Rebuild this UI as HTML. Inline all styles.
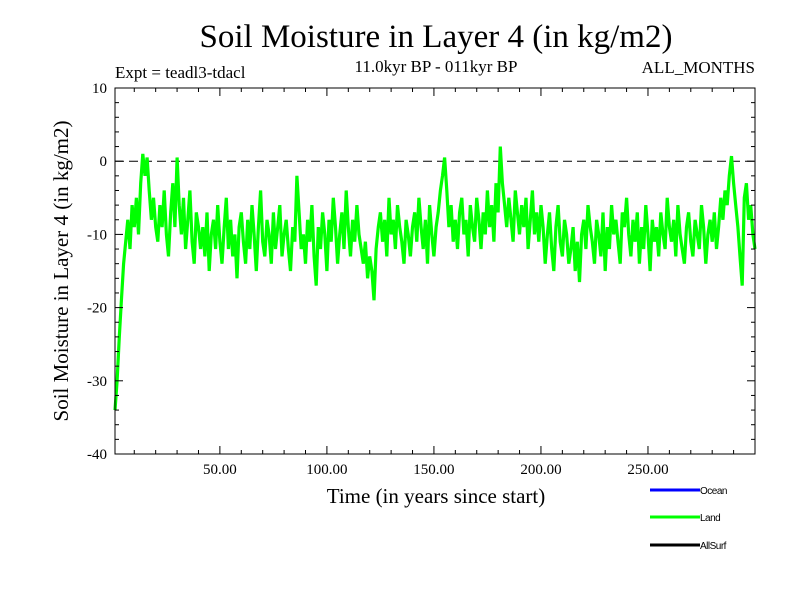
<!DOCTYPE html>
<html><head><meta charset="utf-8"><style>
body{margin:0;background:#fff;}
svg text{font-family:"Liberation Serif",serif;}
svg text.sans{font-family:"Liberation Sans",sans-serif;}
</style></head><body>
<svg width="800" height="600" xmlns="http://www.w3.org/2000/svg" id="chart">
<rect width="800" height="600" fill="#fff"/>
<text x="436" y="47" font-size="33" text-anchor="middle">Soil Moisture in Layer 4 (in kg/m2)</text>
<text x="115" y="78" font-size="17">Expt = teadl3-tdacl</text>
<text x="436" y="72" font-size="17" text-anchor="middle">11.0kyr BP - 011kyr BP</text>
<text x="755" y="73" font-size="17" text-anchor="end">ALL_MONTHS</text>
<text x="436" y="503" font-size="21" text-anchor="middle">Time (in years since start)</text>
<text transform="translate(68,271) rotate(-90)" font-size="21" text-anchor="middle">Soil Moisture in Layer 4 (in kg/m2)</text>
<g id="plot"></g>
<g>
<line x1="650" y1="490" x2="700" y2="490" stroke="#0000ff" stroke-width="3"/>
<text class="sans" x="700" y="494" font-size="10" letter-spacing="-0.5">Ocean</text>
<line x1="650" y1="517" x2="700" y2="517" stroke="#00ff00" stroke-width="3"/>
<text class="sans" x="700" y="521" font-size="10" letter-spacing="-0.5">Land</text>
<line x1="650" y1="545" x2="700" y2="545" stroke="#000" stroke-width="3"/>
<text class="sans" x="700" y="549" font-size="10" letter-spacing="-0.5">AllSurf</text>
</g>
</svg>
<script>
const landValues=[-34,-30,-24,-19,-14,-11,-8,-12,-6,-9,-5,-10,-3,1,-2,0.5,-4,-8,-5,-9,
-11,-6,-9,-4,-10,-13,-7,-3,-9,0.5,-6,-10,-5,-12,-8,-4,-11,-14,-7,-9,
-12,-9,-13,-7,-15,-10,-8,-12,-6,-11,-14,-9,-5,-12,-8,-13,-10,-16,-9,-7,
-11,-14,-8,-12,-6,-10,-15,-9,-4,-11,-13,-8,-10,-14,-7,-12,-9,-6,-13,-10,
-8,-12,-15,-9,-11,-2,-7,-12,-10,-14,-8,-11,-6,-13,-17,-9,-12,-7,-10,-15,
-8,-11,-5,-9,-14,-10,-7,-12,-4,-9,-13,-8,-11,-6,-10,-12,-14,-11,-16,-13,
-15,-19,-12,-9,-7,-11,-8,-13,-5,-10,-8,-12,-6,-9,-11,-14,-8,-10,-13,-9,
-7,-11,-5,-9,-12,-8,-14,-6,-10,-13,-9,-7,-4,-2,0.5,-4,-9,-6,-11,-8,
-12,-7,-5,-10,-8,-13,-6,-9,-11,-5,-8,-12,-7,-10,-4,-9,-6,-11,-3,-7,
2,-3,-6,-9,-5,-8,-11,-4,-7,-10,-6,-9,-5,-12,-8,-4,-10,-7,-11,-6,
-9,-14,-10,-7,-12,-15,-9,-6,-11,-13,-8,-10,-14,-12,-9,-15,-11,-16.5,-10,-8,
-12,-6,-9,-11,-14,-8,-10,-13,-7,-15,-9,-12,-6,-10,-8,-11,-14,-7,-9,-5,
-10,-13,-8,-11,-7,-14,-9,-12,-6,-10,-15,-8,-11,-9,-13,-7,-10,-12,-5,-9,
-11,-8,-13,-6,-10,-12,-14,-9,-7,-11,-13,-8,-10,-12,-6,-9,-14,-10,-8,-11,
-7,-12,-9,-5,-8,-4,-6,-2,0.7,-3,-6,-9,-13,-17,-5,-3,-8,-6,-10,-12];
const xTicks=[50,100,150,200,250];
const xTickLabels=["50.00","100.00","150.00","200.00","250.00"];
const yTicks=[10,0,-10,-20,-30,-40];
const yTickLabels=["10","0","-10","-20","-30","-40"];

const L=115,R=755,T=88,B=454,xMin=1,xMax=300,yMin=-40,yMax=10;
const xs=v=>L+(v-xMin)/(xMax-xMin)*(R-L);
const ys=v=>B-(v-yMin)/(yMax-yMin)*(B-T);
const NS="http://www.w3.org/2000/svg";
const g=document.getElementById('plot');
function mk(tag,attrs){const e=document.createElementNS(NS,tag);for(const k in attrs)e.setAttribute(k,attrs[k]);g.appendChild(e);return e;}

const zero=mk('line',{x1:L,x2:R,y1:ys(0),y2:ys(0),stroke:'#000','stroke-width':1,'stroke-dasharray':'9,5'});



let d='';
landValues.forEach((v,i)=>{d+=(i?'L':'M')+xs(i+1).toFixed(1)+','+ys(v).toFixed(1);});
const line=mk('path',{d:d,fill:'none',stroke:'#00ff00','stroke-width':3.2,'stroke-linejoin':'miter'});



const frame=mk('rect',{x:L,y:T,width:R-L,height:B-T,fill:'none',stroke:'#000','stroke-width':1});



for(let v=10;v<=300;v+=10){
  const major=v%50===0;
  const len=major?8:4;
  const t=mk('line',{x1:xs(v),x2:xs(v),y1:B,y2:B-len,stroke:'#000'});
  
  
  const t2=mk('line',{x1:xs(v),x2:xs(v),y1:T,y2:T+len,stroke:'#000'});
  
  
}
xTicks.forEach((v,i)=>{
  const t=mk('text',{x:xs(v),y:B+20,'font-size':15,'text-anchor':'middle'});
  t.textContent=xTickLabels[i];
  
  
});
for(let v=-40;v<=10;v+=2){
  const major=v%10===0;
  const len=major?8:4;
  const t=mk('line',{x1:L,x2:L+len,y1:ys(v),y2:ys(v),stroke:'#000'});
  
  
  const t2=mk('line',{x1:R,x2:R-len,y1:ys(v),y2:ys(v),stroke:'#000'});
  
  
}
yTicks.forEach((v,i)=>{
  const t=mk('text',{x:L-8,y:ys(v)+5,'font-size':15,'text-anchor':'end'});
  t.textContent=yTickLabels[i];
  
  
});
</script>
</body></html>
